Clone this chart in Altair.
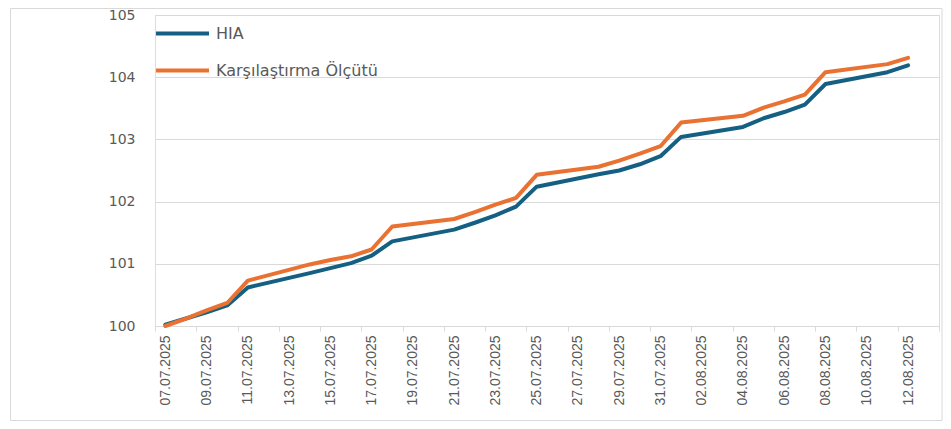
import altair as alt
import pandas as pd
from datetime import datetime, timezone, timedelta

dates = ["2025-07-07", "2025-07-08", "2025-07-09", "2025-07-10", "2025-07-11",
         "2025-07-14", "2025-07-15", "2025-07-16", "2025-07-17", "2025-07-18",
         "2025-07-21", "2025-07-22", "2025-07-23", "2025-07-24", "2025-07-25",
         "2025-07-28", "2025-07-29", "2025-07-30", "2025-07-31", "2025-08-01",
         "2025-08-04", "2025-08-05", "2025-08-06", "2025-08-07", "2025-08-08",
         "2025-08-11", "2025-08-12"]
hia = [100.02, 100.12, 100.22, 100.33, 100.62, 100.85, 100.93, 101.01, 101.13, 101.36,
       101.55, 101.66, 101.78, 101.92, 102.24, 102.44, 102.50, 102.60, 102.73, 103.04,
       103.20, 103.34, 103.44, 103.56, 103.89, 104.08, 104.19]
bench = [100.00, 100.12, 100.25, 100.37, 100.73, 100.99, 101.06, 101.12, 101.23, 101.60,
         101.72, 101.83, 101.95, 102.06, 102.43, 102.56, 102.66, 102.77, 102.89, 103.27,
         103.38, 103.51, 103.61, 103.72, 104.08, 104.21, 104.31]
series_names = ["HIA", "Karşılaştırma Ölçütü"]
series_colors = ["#156082", "#E97132"]
y_ticks = [100, 101, 102, 103, 104, 105]

rows = []
for name, vals in zip(series_names, [hia, bench]):
    for d, v in zip(dates, vals):
        rows.append({"date": d, "value": v, "series": name})
df = pd.DataFrame(rows)

# axis ticks at half-day boundaries, labels show the following day
start = datetime(2025, 7, 6, 12, tzinfo=timezone.utc)
tick_vals = [alt.DateTime(year=t.year, month=t.month, date=t.day, hours=12, utc=True)
             for t in [start + timedelta(days=2 * k) for k in range(20)]]
last_ms = int((start + timedelta(days=38)).timestamp() * 1000)

TOP = 15.0      # page y of the 105 gridline
BOTTOM = 326.0  # page y of the 100 baseline
W, H = 784, BOTTOM - TOP
grey = "#595959"
line_grey = "#D9D9D9"

x_enc = alt.X(
    "date:T",
    scale=alt.Scale(type="utc",
                    domain=[alt.DateTime(year=2025, month=7, date=6, hours=12, utc=True),
                            alt.DateTime(year=2025, month=8, date=13, hours=12, utc=True)]),
    axis=alt.Axis(
        values=tick_vals,
        labelExpr=f"datum.value >= {last_ms - 1000} ? '' : utcFormat(datum.value + 43200000, '%d.%m.%Y')",
        labelAngle=270,
        labelOffset=10.3,
        labelPadding=4,
        labelFont="Liberation Sans",
        labelFontSize=14,
        labelColor=grey,
        labelOverlap=False,
        labelBound=False,
        labelFlush=False,
        grid=False,
        domainColor=line_grey,
        domainWidth=1,
        tickColor=line_grey,
        tickSize=5,
        title=None,
    ),
)

y_enc = alt.Y(
    "value:Q",
    scale=alt.Scale(domain=[100, 105], nice=False, zero=False),
    axis=alt.Axis(
        values=y_ticks,
        format="d",
        domain=False,
        ticks=False,
        grid=True,
        gridColor=line_grey,
        gridWidth=1,
        labelFont="DejaVu Sans",
        labelFontSize=14,
        labelColor=grey,
        labelPadding=20,
        title=None,
    ),
)

lines = alt.Chart(df).mark_line(strokeWidth=4, strokeCap="round", strokeJoin="round").encode(
    x=x_enc,
    y=y_enc,
    color=alt.Color(
        "series:N",
        scale=alt.Scale(domain=series_names, range=series_colors),
        legend=alt.Legend(
            title=None,
            orient="none",
            legendX=-1,
            legendY=-10,
            symbolType="stroke",
            symbolSize=2809,
            symbolStrokeWidth=4,
            labelFont="DejaVu Sans",
            labelFontSize=16,
            labelColor=grey,
            labelOffset=5,
            labelLimit=400,
            rowPadding=-23,
        ),
    ),
    order=alt.Order("series:N"),
)

frame = alt.Chart(pd.DataFrame({"a": [0]})).mark_rect(
    filled=False, fill=None, stroke=line_grey, strokeWidth=1
).encode(
    x=alt.value(-144.5), x2=alt.value(787), y=alt.value(8.5 - TOP), y2=alt.value(420.5 - TOP)
)

chart = alt.layer(frame, lines).properties(
    width=W,
    height=H,
    padding={"left": 147, "top": TOP - 8, "right": 4, "bottom": 413 - (TOP - 8) - H},
    autosize=alt.AutoSizeParams(type="none"),
).configure_view(stroke=None).configure(background="white")

chart.save("out.html", embed_options={"renderer": "svg", "actions": False})
